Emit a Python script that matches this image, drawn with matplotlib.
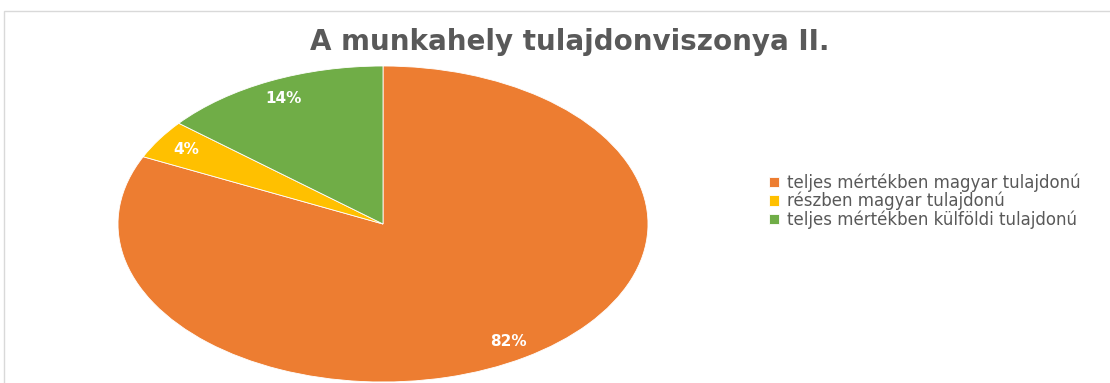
import matplotlib.pyplot as plt
from matplotlib.patches import Rectangle

categories = [
    "teljes mértékben magyar tulajdonú",
    "részben magyar tulajdonú",
    "teljes mértékben külföldi tulajdonú",
]
shares = [82, 4, 14]
colors = ["#ED7D31", "#FFC000", "#70AD47"]

fig = plt.figure(figsize=(11.10, 3.83), dpi=100)

# light frame of the chart area
fig.patches.append(Rectangle((4 / 1110, -0.1), 1.2, (383 - 11) / 383 + 0.1,
                             transform=fig.transFigure, fill=False,
                             edgecolor="#D9D9D9", linewidth=1))

ax = fig.add_axes([118 / 1110, 1 / 383, 530 / 1110, 316 / 383])
wedges, texts, autotexts = ax.pie(
    shares,
    colors=colors,
    startangle=90,
    counterclock=False,
    autopct="%d%%",
    pctdistance=0.88,
    wedgeprops=dict(edgecolor="white", linewidth=0.6),
    textprops=dict(color="white", fontsize=11, fontweight="bold"),
)
ax.set_aspect("auto")
ax.set_xlim(-1, 1)
ax.set_ylim(-1, 1)

fig.text(570 / 1110, 1 - 42 / 383, "A munkahely tulajdonviszonya II.",
         ha="center", va="center", fontsize=20, fontweight="bold",
         color="#595959")

fig.legend(wedges, categories, loc="center left",
           bbox_to_anchor=(754 / 1110, 1 - 201 / 383), frameon=False,
           fontsize=12, handlelength=0.6, handleheight=0.6,
           handletextpad=0.5, labelspacing=0.0, labelcolor="#595959")

fig.savefig("out.png", dpi=100)
